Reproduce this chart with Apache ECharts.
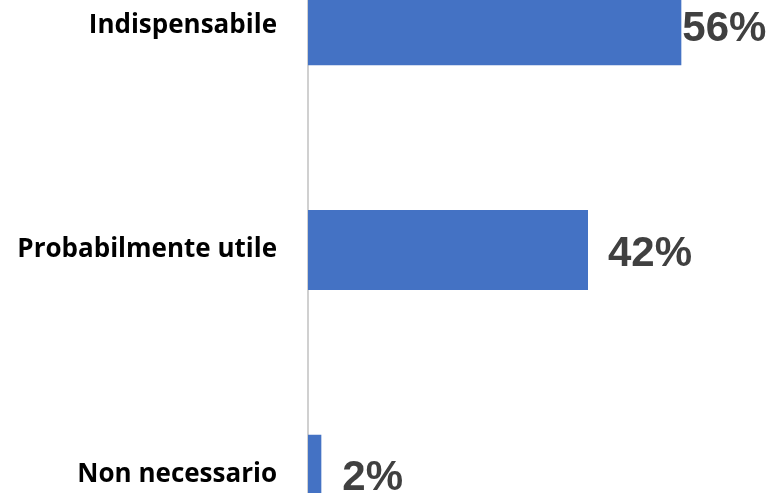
<!DOCTYPE html>
<html>
<head>
<meta charset="utf-8">
<script src="https://cdn.jsdelivr.net/npm/echarts@6/dist/echarts.min.js"></script>
<style>
  html, body { margin: 0; padding: 0; background: #fff; }
  #chart { width: 768px; height: 493px; }
</style>
</head>
<body>
<div id="chart"></div>
<script>
// categories top to bottom
const categories = ['Indispensabile', 'Probabilmente utile', 'Non necessario']
const values = [56, 42, 2]
const labelGap = [1, 20, 21]

const myChart = echarts.init(document.getElementById('chart'))

const option = {
  animation: false,
  grid: {
    left: 308,
    width: 400,
    top: -87,
    height: 674,
    outerBoundsMode: 'none',
  },
  xAxis: {
    type: 'value',
    min: 0,
    max: 60,
    show: false,
  },
  yAxis: {
    type: 'category',
    inverse: true,
    data: categories,
    axisLine: { show: true, lineStyle: { color: '#d0d0d0', width: 2 } },
    axisTick: { show: false },
    axisLabel: {
      margin: 31,
      color: '#000',
      fontFamily: 'Open Sans',
      fontWeight: 'bold',
      fontSize: 26,
      padding: [5, 0, 0, 0],
    },
  },
  series: [
    {
      type: 'bar',
      barWidth: 80,
      itemStyle: { color: '#4472c4' },
      data: values.map((v, i) => ({
        value: v,
        label: { distance: labelGap[i] },
      })),
      label: {
        show: true,
        position: 'right',
        formatter: '{c}%',
        color: '#404040',
        fontFamily: 'Liberation Sans',
        fontWeight: 'bold',
        fontSize: 42,
        offset: [0, 4],
      },
    },
  ],
}
myChart.setOption(option)
</script>
</body>
</html>
